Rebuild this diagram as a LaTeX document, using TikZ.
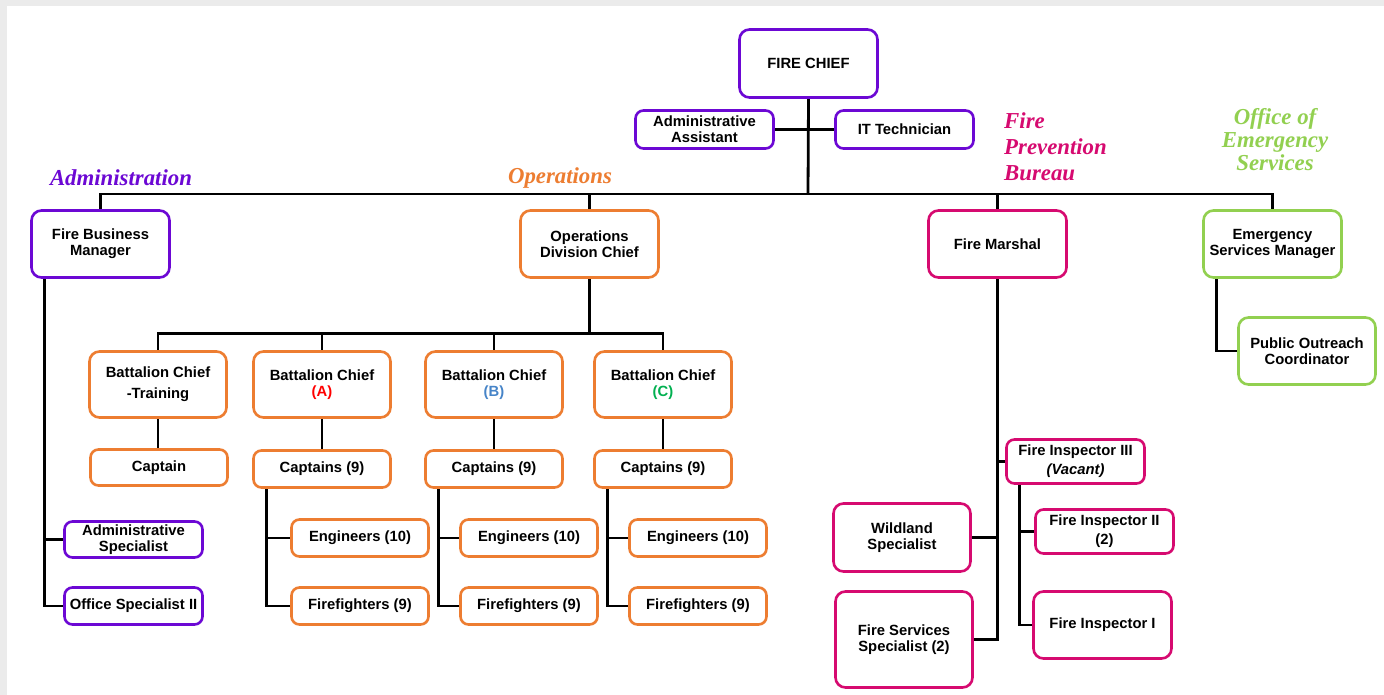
\documentclass[tikz,border=0pt]{standalone}
\usepackage{fontspec}
\setmainfont{Liberation Sans}
\newfontfamily\sectfont{Liberation Serif}
\definecolor{bggray}{RGB}{235,235,235}
\definecolor{purp}{RGB}{108,8,212}
\definecolor{orng}{RGB}{237,125,49}
\definecolor{mgnt}{RGB}{214,10,112}
\definecolor{lgrn}{RGB}{146,208,80}
\definecolor{bcred}{RGB}{255,0,0}
\definecolor{bcblue}{RGB}{70,132,200}
\definecolor{bcgreen}{RGB}{0,176,80}
\pgfdeclarelayer{back}
\pgfdeclarelayer{lines}
\pgfsetlayers{back,lines,main}
\tikzset{
  box/.style={draw, fill=white, line width=2.6pt, rounded corners=10pt, align=center,
    inner sep=0pt, font=\fontsize{14.8}{16}\selectfont\bfseries, text=black},
  pbox/.style={box, draw=purp},
  obox/.style={box, draw=orng},
  mbox/.style={box, draw=mgnt},
  gbox/.style={box, draw=lgrn},
  conn/.style={draw=black, line width=2.8pt},
  sect/.style={font=\sectfont\fontsize{22.8}{26}\selectfont\bfseries\itshape, inner sep=0pt},
}
\begin{document}
\begin{tikzpicture}[x=1pt,y=-1pt]
\begin{pgfonlayer}{back}
\fill[bggray] (0,0) rectangle (1384,695);
\fill[white] (7,6) rectangle (1384,695);
\end{pgfonlayer}
\useasboundingbox (0,0) rectangle (1384,695);

% top level
\node[pbox, minimum width=138pt, minimum height=68pt] (chief) at (808.5,63.5) {FIRE CHIEF};
\node[pbox, rounded corners=8pt, minimum width=138pt, minimum height=38pt] (aa) at (704.5,129.5) {Administrative\\Assistant};
\node[pbox, rounded corners=8pt, minimum width=138pt, minimum height=38pt] (it) at (904.5,129.5) {IT Technician};

% section labels
\node[sect, text=purp] (labadm) at (121,178) {Administration};
\node[sect, text=orng] (labops) at (560,178) {Operations};
\node[sect, text=mgnt, align=left, anchor=west] (labfpb) at (1004,147) {Fire\\Prevention\\Bureau};
\node[sect, text=lgrn, align=center, font=\sectfont\fontsize{22.8}{23}\selectfont\bfseries\itshape] (laboes) at (1275,140) {Office of\\Emergency\\Services};

% division heads
\node[pbox, minimum width=138pt, minimum height=67pt] (fbm) at (100.5,244) {Fire Business\\Manager};
\node[obox, minimum width=138pt, minimum height=67pt] (odc) at (589.5,244) {Operations\\Division Chief};
\node[mbox, minimum width=138pt, minimum height=67pt] (fm) at (997.5,244) {Fire Marshal};
\node[gbox, minimum width=138pt, minimum height=67pt] (esm) at (1272.5,244) {Emergency\\Services Manager};

% administration
\node[pbox, rounded corners=8pt, minimum width=138pt, minimum height=36pt] (as) at (133.5,539.5) {Administrative\\Specialist};
\node[pbox, rounded corners=8pt, minimum width=138pt, minimum height=37pt] (os) at (133.5,606) {Office Specialist II};

% operations
\node[obox, minimum width=137pt, minimum height=66pt] (bct) at (158,384.5) {Battalion Chief\\[5pt]-Training};
\node[obox, minimum width=137pt, minimum height=66pt] (bca) at (322,384.5) {Battalion Chief\\\textcolor{bcred}{(A)}};
\node[obox, minimum width=137pt, minimum height=66pt] (bcb) at (494,384.5) {Battalion Chief\\\textcolor{bcblue}{(B)}};
\node[obox, minimum width=137pt, minimum height=66pt] (bcc) at (663,384.5) {Battalion Chief\\\textcolor{bcgreen}{(C)}};

\node[obox, rounded corners=8pt, minimum width=137pt, minimum height=36pt] (capt) at (159,467.5) {Captain};
\node[obox, rounded corners=8pt, minimum width=137pt, minimum height=37pt] (capa) at (322,469) {Captains (9)};
\node[obox, rounded corners=8pt, minimum width=137pt, minimum height=37pt] (capb) at (494,469) {Captains (9)};
\node[obox, rounded corners=8pt, minimum width=137pt, minimum height=37pt] (capc) at (663,469) {Captains (9)};

\node[obox, rounded corners=8pt, minimum width=137pt, minimum height=37pt] (enga) at (360,538) {Engineers (10)};
\node[obox, rounded corners=8pt, minimum width=137pt, minimum height=37pt] (ffa) at (360,606) {Firefighters (9)};
\node[obox, rounded corners=8pt, minimum width=137pt, minimum height=37pt] (engb) at (529,538) {Engineers (10)};
\node[obox, rounded corners=8pt, minimum width=137pt, minimum height=37pt] (ffb) at (529,606) {Firefighters (9)};
\node[obox, rounded corners=8pt, minimum width=137pt, minimum height=37pt] (engc) at (698,538) {Engineers (10)};
\node[obox, rounded corners=8pt, minimum width=137pt, minimum height=37pt] (ffc) at (698,606) {Firefighters (9)};

% fire prevention
\node[mbox, rounded corners=8pt, minimum width=138pt, minimum height=44pt] (fi3) at (1075.5,461.5) {Fire Inspector III\\[3pt]\textit{(Vacant)}};
\node[mbox, minimum width=137pt, minimum height=68pt] (wild) at (902,537.5) {Wildland\\Specialist};
\node[mbox, minimum width=137pt, minimum height=96pt] (fss) at (904,639.5) {Fire Services\\Specialist (2)};
\node[mbox, rounded corners=8pt, minimum width=138pt, minimum height=44pt] (fi2) at (1104.5,531.5) {Fire Inspector II\\[3pt](2)};
\node[mbox, minimum width=138pt, minimum height=67pt] (fi1) at (1102.5,625) {Fire Inspector I};

% emergency services
\node[gbox, minimum width=137pt, minimum height=67pt] (poc) at (1307,351) {Public Outreach\\Coordinator};

% connectors
\begin{pgfonlayer}{lines}
\coordinate (bus) at (808,194);
\draw[conn] (chief.south) -- (bus);
\draw[conn] (aa.east) -- (it.west);
\draw[conn] (fbm.north) -- (fbm.north |- bus) -- (esm.north |- bus) -- (esm.north);
\draw[conn] (odc.north) -- (odc.north |- bus);
\draw[conn] (fm.north) -- (fm.north |- bus);

\coordinate (fbmdrop) at ([xshift=-56pt]fbm.south);
\draw[conn] (fbmdrop) |- (os.west);
\draw[conn] (fbmdrop) |- (as.west);

\coordinate (obus) at ([yshift=-55pt]odc.south);
\draw[conn] (odc.south) -- (obus);
\draw[conn] (bct.north) -- (bct.north |- obus) -- (bcc.north |- obus) -- (bcc.north);
\draw[conn] (bca.north) -- (bca.north |- obus);
\draw[conn] (bcb.north) -- (bcb.north |- obus);

\draw[conn] (bct.south) -- (bct.south |- capt.north);
\draw[conn] (bca.south) -- (capa.north);
\draw[conn] (bcb.south) -- (capb.north);
\draw[conn] (bcc.south) -- (capc.north);

\coordinate (cadrop) at ([xshift=14pt]capa.south west);
\coordinate (cbdrop) at ([xshift=14pt]capb.south west);
\coordinate (ccdrop) at ([xshift=14pt]capc.south west);
\draw[conn] (cadrop) |- (ffa.west);
\draw[conn] (cadrop) |- (enga.west);
\draw[conn] (cbdrop) |- (ffb.west);
\draw[conn] (cbdrop) |- (engb.west);
\draw[conn] (ccdrop) |- (ffc.west);
\draw[conn] (ccdrop) |- (engc.west);

\draw[conn] (fm.south) |- (fss.east);
\draw[conn] (wild.east) -- (wild.east -| fm.south);
\draw[conn] (fi3.west) -- (fi3.west -| fm.south);
\coordinate (fi3drop) at ([xshift=14pt]fi3.south west);
\draw[conn] (fi3drop) |- (fi1.west);
\draw[conn] (fi3drop) |- (fi2.west);

\coordinate (esmdrop) at ([xshift=14pt]esm.south west);
\draw[conn] (esmdrop) |- (poc.west);
\end{pgfonlayer}
\end{tikzpicture}
\end{document}
